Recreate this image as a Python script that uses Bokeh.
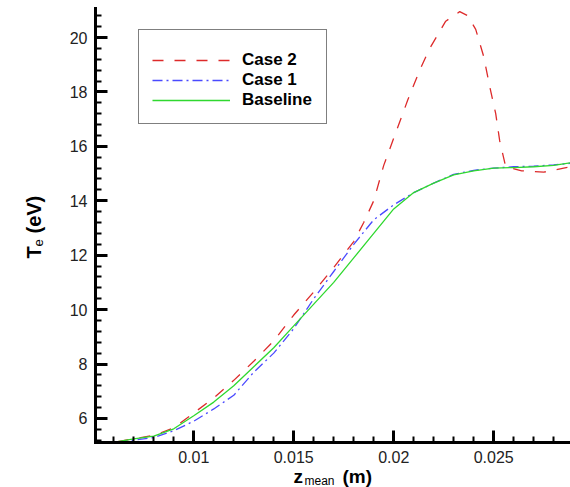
import math
from bokeh.plotting import figure
from bokeh.models import (Range1d, FixedTicker, Label, Legend, LegendItem, LinearAxis)
from bokeh.embed import file_html
from bokeh.resources import INLINE

# ---- data ----
x_base = [0.0062, 0.007, 0.008, 0.009, 0.010, 0.011, 0.012, 0.013, 0.014, 0.015,
          0.016, 0.017, 0.018, 0.019, 0.020, 0.021, 0.022, 0.023, 0.024, 0.025,
          0.026, 0.027, 0.028, 0.0289]
y_base = [5.15, 5.25, 5.35, 5.62, 6.1, 6.6, 7.2, 7.9, 8.6, 9.4,
          10.2, 11.0, 11.9, 12.8, 13.7, 14.3, 14.65, 14.95, 15.1, 15.2,
          15.22, 15.25, 15.3, 15.4]

x_case1 = [0.0062, 0.007, 0.008, 0.009, 0.010, 0.011, 0.012, 0.013, 0.014, 0.015,
           0.016, 0.017, 0.018, 0.019, 0.020, 0.021, 0.022, 0.023, 0.024, 0.025,
           0.026, 0.027, 0.028, 0.0289]
y_case1 = [5.12, 5.2, 5.3, 5.55, 5.9, 6.35, 6.85, 7.7, 8.4, 9.3,
           10.4, 11.4, 12.4, 13.3, 13.85, 14.3, 14.65, 14.97, 15.12, 15.2,
           15.25, 15.27, 15.32, 15.38]

x_case2 = [0.0062, 0.007, 0.008, 0.009, 0.010, 0.011, 0.012, 0.013, 0.014, 0.015,
           0.016, 0.017, 0.018, 0.0185, 0.019, 0.0195, 0.020, 0.0207, 0.0213, 0.0218,
           0.0226, 0.0233, 0.0237, 0.0241, 0.0245, 0.0248, 0.0251, 0.0253, 0.0256,
           0.0264, 0.0275, 0.0285, 0.0289]
y_case2 = [5.15, 5.25, 5.38, 5.65, 6.2, 6.75, 7.4, 8.1, 8.85, 9.8,
           10.65, 11.55, 12.5, 13.2, 14.0, 15.3, 16.3, 17.7, 18.8, 19.6,
           20.6, 20.95, 20.8, 20.3, 19.3, 18.2, 17.2, 16.2, 15.25,
           15.1, 15.05, 15.2, 15.25]

x_major = [0.01, 0.015, 0.02, 0.025]
x_labels = ["0.01", "0.015", "0.02", "0.025"]
x_minor = [0.006, 0.007, 0.008, 0.009, 0.011, 0.012, 0.013, 0.014, 0.016, 0.017,
           0.018, 0.019, 0.021, 0.022, 0.023, 0.024, 0.026, 0.027, 0.028]
y_major = [6, 8, 10, 12, 14, 16, 18, 20]
y_labels = ["6", "8", "10", "12", "14", "16", "18", "20"]
y_minor = [5.2, 5.6, 6.4, 6.8, 7.2, 7.6, 8.4, 8.8, 9.2, 9.6, 10.4, 10.8, 11.2, 11.6,
           12.4, 12.8, 13.2, 13.6, 14.4, 14.8, 15.2, 15.6, 16.4, 16.8, 17.2, 17.6,
           18.4, 18.8, 19.2, 19.6, 20.4, 20.8]

# visible axis extents
x_lo, x_hi = 0.005085, 0.02884
y_lo, y_hi = 5.117, 21.066

FONT = "Liberation Sans"

p = figure(width=570, height=487, output_backend="svg", toolbar_location=None,
           x_range=Range1d(0.000335, 0.02884), y_range=Range1d(3.462, 21.36),
           x_axis_location=None, y_axis_location=None,
           min_border_left=0, min_border_right=0, min_border_top=0,
           min_border_bottom=0)
p.outline_line_color = None
p.grid.visible = False
p.background_fill_color = "white"
p.border_fill_color = "white"

xax = LinearAxis(fixed_location=y_lo, bounds=(x_lo, x_hi),
                 ticker=FixedTicker(ticks=x_major, minor_ticks=x_minor),
                 major_label_overrides=dict(zip(x_major, x_labels)),
                 major_label_standoff=9)
yax = LinearAxis(fixed_location=x_lo, bounds=(y_lo, y_hi),
                 ticker=FixedTicker(ticks=y_major, minor_ticks=y_minor),
                 major_label_overrides=dict(zip(y_major, y_labels)),
                 major_label_standoff=8)
for ax in (xax, yax):
    ax.axis_line_width = 3
    ax.axis_line_color = "black"
    ax.axis_line_cap = "square"
    ax.major_tick_in = 12
    ax.major_tick_out = 0
    ax.major_tick_line_width = 3
    ax.minor_tick_in = 6
    ax.minor_tick_out = 0
    ax.minor_tick_line_width = 2
    ax.major_label_text_font = FONT
    ax.major_label_text_font_size = "16px"
    ax.major_label_text_color = "#222222"
p.add_layout(xax, "below")
p.add_layout(yax, "left")

r2 = p.line(x_case2, y_case2, line_color="#dd2a2a", line_width=1.3, line_dash="11 11")
r1 = p.line(x_case1, y_case1, line_color="#4a4aff", line_width=1.3, line_dash="10 4 2 4")
r0 = p.line(x_base, y_base, line_color="#2fd82f", line_width=1.3)

legend = Legend(items=[LegendItem(label="Case 2", renderers=[r2]),
                       LegendItem(label="Case 1", renderers=[r1]),
                       LegendItem(label="Baseline", renderers=[r0])],
                location=(138, 363), padding=13, spacing=0, margin=0,
                glyph_width=78, glyph_height=20, label_height=20, label_width=71,
                label_standoff=12, label_text_font=FONT, label_text_font_size="17px",
                label_text_font_style="bold", label_text_color="black",
                border_line_color="black", border_line_width=1.5,
                background_fill_color="white", background_fill_alpha=1,
                title=" ", title_text_font_size="6px", title_standoff=1)
p.add_layout(legend, "center")

# axis titles (screen units, origin at bottom-left of the canvas-filling frame)
lab_kw = dict(x_units="screen", y_units="screen", text_font=FONT, text_color="black",
              text_baseline="alphabetic", text_align="left")
p.add_layout(Label(x=293, y=11, text="z", text_font_size="19px",
                   text_font_style="bold", **lab_kw))
p.add_layout(Label(x=304, y=7, text="mean", text_font_size="12px", **lab_kw))
p.add_layout(Label(x=342, y=11, text="(m)", text_font_size="19px",
                   text_font_style="bold", **lab_kw))

p.add_layout(Label(x=33, y=229, text="T", angle=math.pi / 2, text_font_size="20px",
                   text_font_style="bold", **lab_kw))
p.add_layout(Label(x=37.5, y=241, text="e", angle=math.pi / 2, text_font_size="13px",
                   **lab_kw))
p.add_layout(Label(x=33, y=254, text="(eV)", angle=math.pi / 2, text_font_size="20px",
                   text_font_style="bold", **lab_kw))

open("out.html", "w").write(file_html(p, INLINE))
